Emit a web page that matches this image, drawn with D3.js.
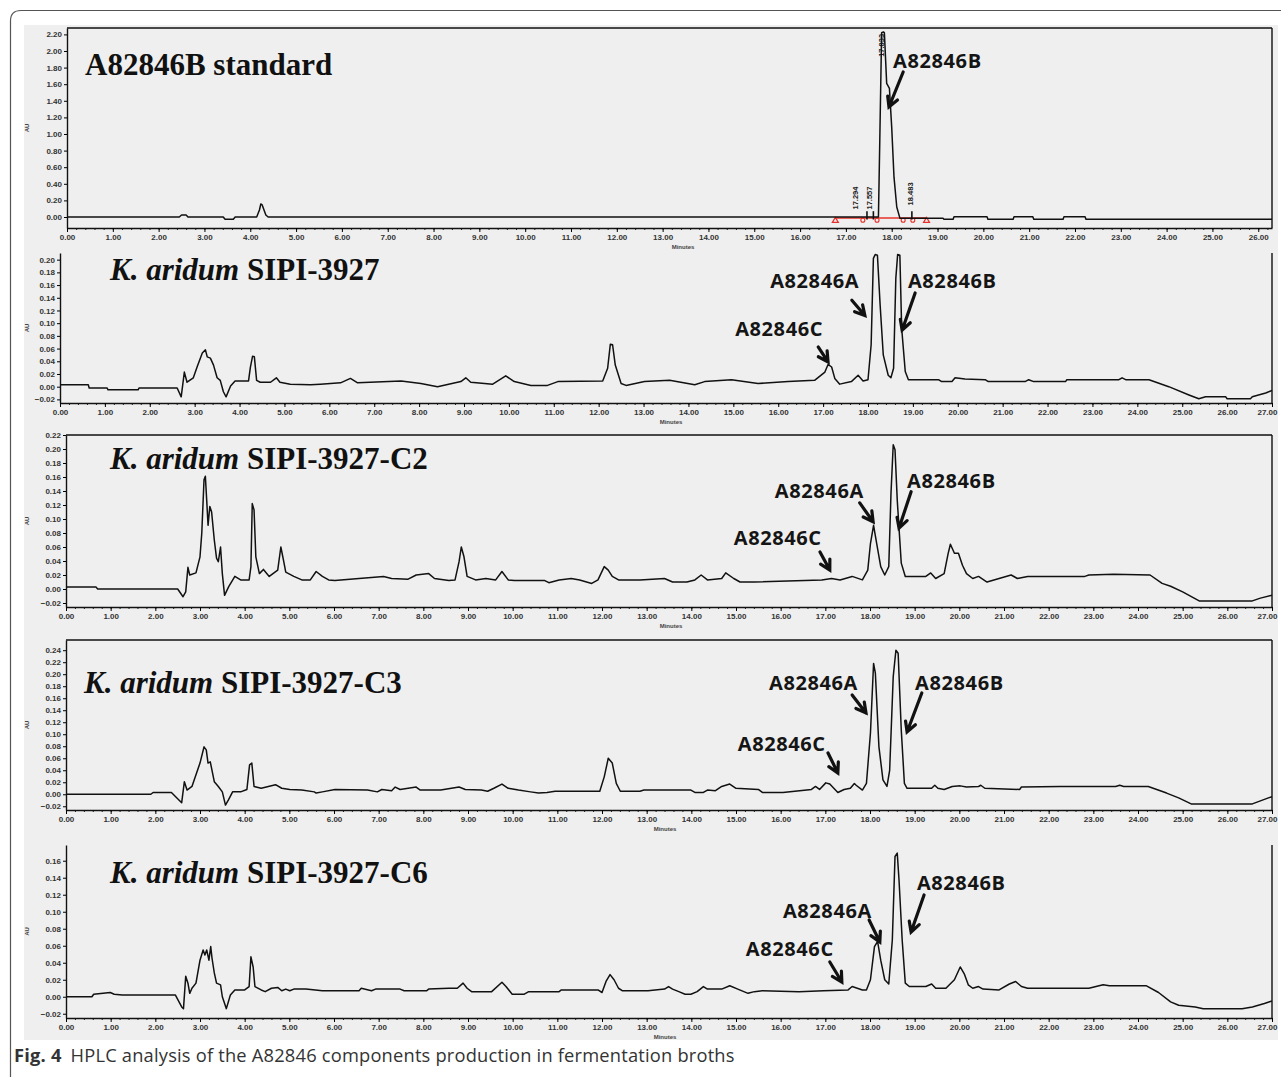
<!DOCTYPE html>
<html>
<head>
<meta charset="utf-8">
<script src="https://cdn.jsdelivr.net/npm/d3@7"></script>
<style>
body { margin: 0; background: #fff; }
svg { display: block; }
</style>
</head>
<body>
<script>
// HPLC chromatograms, A82846 standard and four K. aridum strains

// retention time (min), absorbance (AU)
var stdTrace = [[0,0],[2.45,0],[2.5,0.024],[2.6,0.024],[2.64,0],[3.41,0],[3.45,-0.028],[3.63,-0.028],[3.67,0],
  [4.14,0],[4.2,0.084],[4.23,0.157],[4.26,0.145],[4.3,0.084],[4.34,0.024],[4.39,0],[17.71,0],[17.74,0.93],
  [17.78,2.22],[17.82,2.23],[17.84,2.22],[17.89,1.61],[17.95,1.55],[18.0,1.08],[18.05,0.48],[18.11,0.12],
  [18.18,-0.016],[19.12,-0.016],[19.14,-0.028],[19.34,-0.028],[19.36,0.004],[20.08,0.004],[20.1,-0.028],
  [20.65,-0.028],[20.67,0.004],[21.08,0.004],[21.1,-0.028],[21.74,-0.028],[21.76,0.004],[22.22,0.004],
  [22.24,-0.028],[26.3,-0.028]];

var sipiTrace = [[0,0.003],[0.63,0.003],[0.65,-0.002],[1.05,-0.002],[1.07,-0.005],[1.74,-0.005],[1.76,-0.002],
  [2.61,-0.002],[2.7,-0.016],[2.77,0.023],[2.83,0.007],[2.97,0.014],[3.06,0.032],[3.17,0.053],[3.24,0.058],
  [3.28,0.047],[3.35,0.045],[3.42,0.034],[3.5,0.014],[3.57,0.01],[3.64,-0.008],[3.7,-0.016],[3.8,0.001],
  [3.9,0.009],[4.2,0.009],[4.24,0.03],[4.29,0.048],[4.33,0.047],[4.38,0.01],[4.46,0.007],[4.69,0.007],
  [4.82,0.014],[4.9,0.007],[5.13,0.004],[5.58,0.003],[5.8,0.004],[6.25,0.006],[6.47,0.013],[6.63,0.006],
  [7.6,0.009],[8.04,0.005],[8.41,0.0],[8.93,0.008],[9.04,0.014],[9.15,0.007],[9.64,0.004],[9.93,0.017],
  [10.12,0.008],[10.49,0.002],[10.86,0.002],[11.09,0.008],[12.09,0.009],[12.2,0.029],[12.26,0.067],
  [12.31,0.066],[12.37,0.034],[12.5,0.005],[12.61,0.002],[13.02,0.008],[13.58,0.01],[14.14,0.003],
  [14.36,0.008],[14.96,0.011],[15.55,0.005],[16.22,0.008],[16.81,0.01],[17.04,0.023],[17.11,0.035],
  [17.19,0.031],[17.26,0.013],[17.37,0.004],[17.63,0.008],[17.78,0.018],[17.89,0.009],[18.0,0.011],
  [18.07,0.066],[18.12,0.202],[18.16,0.208],[18.21,0.207],[18.27,0.129],[18.34,0.05],[18.45,0.018],
  [18.51,0.014],[18.57,0.029],[18.62,0.171],[18.66,0.208],[18.71,0.207],[18.75,0.092],[18.83,0.024],
  [18.9,0.011],[19.57,0.011],[19.64,0.008],[19.87,0.008],[19.94,0.014],[20.16,0.012],[20.61,0.011],
  [20.68,0.008],[21.5,0.008],[21.58,0.011],[21.69,0.008],[22.4,0.008],[22.43,0.011],[23.59,0.011],
  [23.66,0.014],[23.74,0.011],[24.26,0.011],[24.7,0.0],[25.15,-0.013],[25.37,-0.019],[25.52,-0.016],
  [25.97,-0.016],[26.0,-0.019],[26.52,-0.019],[26.56,-0.016],[26.86,-0.010],[27.0,-0.006]];

var c2Trace = [[0,0.003],[0.67,0.003],[0.71,0.0],[2.5,0.0],[2.62,-0.011],[2.68,-0.004],[2.73,0.031],[2.77,0.02],
  [2.91,0.023],[3.0,0.046],[3.04,0.08],[3.09,0.156],[3.12,0.161],[3.15,0.127],[3.18,0.091],[3.22,0.118],
  [3.26,0.11],[3.32,0.07],[3.37,0.044],[3.41,0.039],[3.46,0.06],[3.5,0.022],[3.55,-0.009],[3.64,0.003],
  [3.78,0.018],[3.91,0.013],[4.1,0.013],[4.14,0.032],[4.17,0.122],[4.21,0.113],[4.25,0.046],[4.33,0.022],
  [4.42,0.028],[4.55,0.018],[4.74,0.027],[4.81,0.06],[4.87,0.041],[4.92,0.024],[5.1,0.018],[5.28,0.013],
  [5.47,0.013],[5.6,0.025],[5.74,0.018],[5.88,0.013],[6.02,0.012],[6.56,0.015],[7.11,0.018],[7.29,0.015],
  [7.66,0.014],[7.84,0.02],[8.12,0.022],[8.25,0.015],[8.57,0.012],[8.71,0.013],[8.8,0.039],[8.85,0.06],
  [8.91,0.046],[8.98,0.018],[9.17,0.013],[9.4,0.015],[9.62,0.013],[9.76,0.025],[9.9,0.013],[10.04,0.012],
  [10.72,0.012],[10.81,0.009],[11.04,0.013],[11.31,0.015],[11.5,0.013],[11.77,0.008],[11.91,0.013],
  [12.05,0.032],[12.14,0.027],[12.23,0.018],[12.37,0.013],[12.85,0.013],[13.4,0.015],[13.58,0.010],
  [13.9,0.010],[14.08,0.013],[14.22,0.02],[14.36,0.013],[14.68,0.015],[14.77,0.023],[14.95,0.015],
  [15.09,0.01],[15.41,0.01],[16.92,0.013],[17.14,0.015],[17.33,0.013],[17.6,0.018],[17.83,0.013],
  [17.95,0.027],[18.01,0.065],[18.08,0.091],[18.15,0.065],[18.24,0.032],[18.33,0.02],[18.42,0.032],
  [18.47,0.137],[18.52,0.206],[18.56,0.199],[18.61,0.127],[18.7,0.037],[18.79,0.018],[19.25,0.018],
  [19.36,0.023],[19.47,0.015],[19.66,0.022],[19.75,0.051],[19.8,0.064],[19.89,0.051],[19.98,0.051],
  [20.07,0.034],[20.16,0.022],[20.3,0.015],[20.43,0.018],[20.62,0.01],[20.89,0.015],[21.16,0.02],
  [21.3,0.015],[21.53,0.018],[22.81,0.018],[22.9,0.02],[23.45,0.021],[24.27,0.02],[24.54,0.008],
  [24.73,0.004],[25.0,-0.004],[25.37,-0.017],[26.56,-0.017],[26.74,-0.013],[27.0,-0.009]];

var c3Trace = [[0,0],[1.9,0],[1.95,0.003],[2.36,0.003],[2.59,-0.014],[2.65,0.021],[2.71,0.007],[2.82,0.013],
  [3.0,0.052],[3.09,0.079],[3.14,0.074],[3.18,0.052],[3.23,0.054],[3.32,0.021],[3.41,0.013],[3.5,0.004],
  [3.57,-0.018],[3.64,-0.009],[3.73,0.004],[3.91,0.004],[4.05,0.008],[4.11,0.049],[4.16,0.052],[4.21,0.013],
  [4.37,0.01],[4.69,0.016],[4.83,0.01],[5.01,0.008],[5.28,0.007],[5.56,0.004],[5.6,0.002],[5.74,0.004],
  [6.02,0.008],[6.75,0.007],[6.97,0.004],[7.07,0.008],[7.29,0.006],[7.37,0.012],[7.48,0.008],[7.84,0.012],
  [7.93,0.007],[8.39,0.007],[8.8,0.012],[8.94,0.008],[9.3,0.007],[9.44,0.005],[9.58,0.01],[9.76,0.017],
  [9.9,0.01],[10.13,0.007],[10.4,0.004],[10.58,0.002],[10.77,0.003],[10.95,0.005],[11.95,0.005],
  [12.05,0.029],[12.14,0.06],[12.23,0.052],[12.32,0.018],[12.41,0.005],[12.85,0.005],[12.94,0.007],
  [13.99,0.007],[14.08,0.003],[14.27,0.003],[14.36,0.007],[14.54,0.006],[14.68,0.013],[14.86,0.017],
  [15.0,0.01],[15.5,0.008],[15.59,0.003],[16.05,0.003],[16.69,0.008],[16.78,0.013],[16.87,0.008],
  [17.01,0.019],[17.1,0.017],[17.28,0.003],[17.42,0.008],[17.56,0.01],[17.65,0.018],[17.69,0.015],
  [17.83,0.007],[17.92,0.018],[18.01,0.102],[18.08,0.218],[18.12,0.202],[18.2,0.079],[18.29,0.024],
  [18.38,0.013],[18.44,0.04],[18.52,0.196],[18.58,0.24],[18.63,0.235],[18.7,0.107],[18.77,0.018],
  [18.83,0.01],[19.38,0.01],[19.45,0.015],[19.52,0.01],[19.66,0.008],[19.84,0.013],[20.02,0.014],
  [20.16,0.012],[20.43,0.013],[20.48,0.015],[20.57,0.01],[21.35,0.008],[21.39,0.012],[22.26,0.013],
  [23.5,0.013],[23.59,0.015],[23.68,0.013],[24.23,0.013],[24.64,0.002],[24.91,-0.006],[25.19,-0.016],
  [26.56,-0.016],[26.92,-0.006],[27.0,-0.004]];

var c6Trace = [[0,0],[0.58,0],[0.62,0.003],[0.99,0.005],[1.08,0.003],[1.26,0.002],[2.45,0.002],[2.59,-0.012],
  [2.63,-0.014],[2.68,0.024],[2.73,0.016],[2.77,0.004],[2.82,0.01],[2.91,0.016],[3.0,0.043],[3.07,0.055],
  [3.11,0.049],[3.15,0.055],[3.2,0.043],[3.24,0.059],[3.27,0.045],[3.32,0.028],[3.37,0.016],[3.46,0.014],
  [3.5,0.0],[3.59,-0.014],[3.68,0.002],[3.78,0.008],[4.0,0.008],[4.1,0.012],[4.14,0.047],[4.19,0.035],
  [4.23,0.012],[4.37,0.008],[4.46,0.006],[4.6,0.01],[4.74,0.011],[4.83,0.007],[4.92,0.009],[5.01,0.007],
  [5.1,0.009],[5.37,0.009],[5.74,0.007],[6.56,0.007],[6.61,0.01],[6.84,0.007],[6.93,0.009],[7.48,0.009],
  [7.57,0.007],[8.07,0.007],[8.12,0.009],[8.57,0.01],[8.76,0.01],[8.89,0.016],[8.98,0.01],[9.08,0.006],
  [9.53,0.006],[9.76,0.017],[9.85,0.012],[9.99,0.003],[10.26,0.003],[10.36,0.006],[11.04,0.006],
  [11.09,0.008],[11.91,0.008],[12.0,0.005],[12.09,0.018],[12.18,0.026],[12.27,0.02],[12.37,0.01],
  [12.46,0.007],[13.03,0.007],[13.4,0.009],[13.49,0.012],[13.58,0.009],[13.72,0.006],[13.86,0.003],
  [13.99,0.003],[14.13,0.006],[14.27,0.012],[14.36,0.009],[14.68,0.009],[14.86,0.013],[15.04,0.009],
  [15.27,0.004],[15.41,0.006],[15.59,0.007],[16.41,0.006],[16.96,0.007],[17.51,0.008],[17.6,0.012],
  [17.83,0.008],[17.92,0.008],[18.01,0.02],[18.1,0.059],[18.17,0.065],[18.24,0.043],[18.33,0.02],
  [18.42,0.015],[18.5,0.067],[18.56,0.165],[18.61,0.169],[18.65,0.137],[18.72,0.067],[18.79,0.016],
  [18.88,0.012],[19.25,0.012],[19.38,0.015],[19.47,0.01],[19.7,0.01],[19.89,0.02],[20.02,0.035],
  [20.11,0.027],[20.2,0.014],[20.3,0.01],[20.43,0.012],[20.53,0.009],[20.89,0.008],[21.12,0.015],
  [21.26,0.018],[21.39,0.012],[21.53,0.01],[22.9,0.01],[23.22,0.014],[23.36,0.013],[24.18,0.013],
  [24.46,0.005],[24.73,-0.006],[24.91,-0.010],[25.28,-0.012],[25.46,-0.014],[26.33,-0.014],
  [26.56,-0.012],[26.83,-0.008],[27.0,-0.005]];

// axis ticks
var xTicksStd = [0,1,2,3,4,5,6,7,8,9,10,11,12,13,14,15,16,17,18,19,20,21,22,23,24,25,26];
var xTicks = [0,1,2,3,4,5,6,7,8,9,10,11,12,13,14,15,16,17,18,19,20,21,22,23,24,25,26,27];
var yTicksStd = [0,0.2,0.4,0.6,0.8,1.0,1.2,1.4,1.6,1.8,2.0,2.2];
var yTicksSipi = [-0.02,0,0.02,0.04,0.06,0.08,0.10,0.12,0.14,0.16,0.18,0.20];
var yTicksC2 = [-0.02,0,0.02,0.04,0.06,0.08,0.10,0.12,0.14,0.16,0.18,0.20,0.22];
var yTicksC3 = [-0.02,0,0.02,0.04,0.06,0.08,0.10,0.12,0.14,0.16,0.18,0.20,0.22,0.24];
var yTicksC6 = [-0.02,0,0.02,0.04,0.06,0.08,0.10,0.12,0.14,0.16];

// axis extents (min, AU)
var xEndStd = 26.3, xEnd = 27;
var yDomStd = [-0.1325, 2.277];
var yDomSipi = [-0.0257, 0.2105];
var yDomC2 = [-0.0257, 0.22];
var yDomC3 = [-0.0262, 0.257];
var yDomC6 = [-0.025, 0.1785];

// panel titles: [italic part, upright part]
var titles = [["", "A82846B standard"], ["K. aridum", " SIPI-3927"], ["K. aridum", " SIPI-3927-C2"],
  ["K. aridum", " SIPI-3927-C3"], ["K. aridum", " SIPI-3927-C6"]];

// peak annotations: label, label (t, AU), arrow from (t, AU) to (t, AU)
var annStd = [["A82846B", 18.03, 1.795, 18.25, 1.747, 17.94, 1.325]];
var annSipi = [["A82846A", 15.82, 0.155, 17.64, 0.136, 17.93, 0.112],
  ["A82846C", 15.04, 0.080, 16.89, 0.0625, 17.11, 0.039],
  ["A82846B", 18.89, 0.155, 19.05, 0.1475, 18.76, 0.089]];
var annC2 = [["A82846A", 15.87, 0.13, 17.77, 0.123, 18.07, 0.096],
  ["A82846B", 18.83, 0.144, 18.92, 0.139, 18.65, 0.087],
  ["A82846C", 14.95, 0.063, 16.88, 0.053, 17.1, 0.027]];
var annC3 = [["A82846A", 15.74, 0.174, 17.6, 0.1655, 17.91, 0.1355],
  ["A82846B", 19.01, 0.174, 19.16, 0.1688, 18.83, 0.1038],
  ["A82846C", 15.04, 0.072, 17.06, 0.0688, 17.28, 0.0355]];
var annC6 = [["A82846B", 19.05, 0.1256, 19.21, 0.1198, 18.92, 0.0761],
  ["A82846A", 16.05, 0.0926, 17.98, 0.0903, 18.22, 0.0644],
  ["A82846C", 15.22, 0.0479, 17.1, 0.0409, 17.37, 0.0173]];

// integration of the standard peak
var stdRT = [["17.294", 17.2, 0.09], ["17.557", 17.52, 0.09], ["17.833", 17.77, 1.93], ["18.483", 18.4, 0.14]];
var stdBaseline = [16.77, 18.76];
var stdMarks = [17.37, 17.68, 18.25, 18.46];
var stdTicks = [17.46, 17.6, 18.44];

var panels = [
  {left: 67, top: 28, bottom: 228, boxTop: true, xMax: xEndStd, trace: stdTrace, xt: xTicksStd, yt: yTicksStd, yDom: yDomStd, ann: annStd, tx: 85, ty: 75, mx: 683},
  {left: 60, top: 253, bottom: 403, boxTop: false, xMax: xEnd, trace: sipiTrace, xt: xTicks, yt: yTicksSipi, yDom: yDomSipi, ann: annSipi, tx: 110, ty: 280, mx: 671},
  {left: 66, top: 435, bottom: 607, boxTop: true, xMax: xEnd, trace: c2Trace, xt: xTicks, yt: yTicksC2, yDom: yDomC2, ann: annC2, tx: 110, ty: 469, mx: 671},
  {left: 66, top: 640, bottom: 810, boxTop: true, xMax: xEnd, trace: c3Trace, xt: xTicks, yt: yTicksC3, yDom: yDomC3, ann: annC3, tx: 84, ty: 693, mx: 665},
  {left: 66, top: 845, bottom: 1018, boxTop: false, xMax: xEnd, trace: c6Trace, xt: xTicks, yt: yTicksC6, yDom: yDomC6, ann: annC6, tx: 110, ty: 883, mx: 665}
];
var right = 1272;

var svg = d3.select("body").append("svg")
    .attr("width", 1281)
    .attr("height", 1077);

svg.append("rect")
    .attr("x", 24).attr("y", 25)
    .attr("width", 1254).attr("height", 1015)
    .attr("fill", "#efefef");

svg.append("path")
    .attr("d", "M10.5,1077 L10.5,21 Q10.5,10.5 21,10.5 L1281,10.5")
    .attr("fill", "none")
    .attr("stroke", "#555")
    .attr("stroke-width", 1.2);

var fmt = d3.format(".2f");

panels.forEach(function(p, i) {
    var x = d3.scaleLinear().domain([0, p.xMax]).range([p.left, right]);
    var y = d3.scaleLinear().domain(p.yDom).range([p.bottom, p.top]);
    var g = svg.append("g");

    // frame
    g.append("line").attr("x1", right).attr("x2", right).attr("y1", p.top).attr("y2", p.bottom)
        .attr("stroke", "#111").attr("stroke-width", 1.4);
    if (p.boxTop) {
        g.append("line").attr("x1", p.left).attr("x2", right).attr("y1", p.top).attr("y2", p.top)
            .attr("stroke", "#111").attr("stroke-width", 1.4);
    }

    // x axis
    var minor = d3.range(0, p.xMax + 0.001, 0.2);
    g.append("g")
        .attr("transform", "translate(0," + p.bottom + ")")
        .call(d3.axisBottom(x).tickValues(minor).tickFormat("").tickSize(2).tickSizeOuter(0))
        .call(function(a) { a.select(".domain").remove(); a.selectAll("line").attr("stroke", "#222"); });
    var xa = g.append("g")
        .attr("transform", "translate(0," + p.bottom + ")")
        .call(d3.axisBottom(x).tickValues(p.xt).tickFormat(fmt).tickSize(4).tickPadding(2).tickSizeOuter(0));
    xa.select(".domain").attr("stroke", "#111").attr("stroke-width", 1.4);
    xa.selectAll("text").attr("font-family", "'Liberation Sans', Arial, sans-serif")
        .attr("font-size", 8).attr("font-weight", 700).attr("fill", "#333");
    // the last label sits on the right edge, as in the original
    xa.selectAll(".tick").filter(function(d) { return d === 27; }).select("text")
        .attr("text-anchor", "end").attr("dx", 5);

    // y axis
    var ya = g.append("g")
        .attr("transform", "translate(" + p.left + ",0)")
        .call(d3.axisLeft(y).tickValues(p.yt).tickFormat(fmt).tickSize(3).tickPadding(2).tickSizeOuter(0));
    ya.select(".domain").attr("stroke", "#111").attr("stroke-width", 1.4);
    ya.selectAll("text").attr("font-family", "'Liberation Sans', Arial, sans-serif")
        .attr("font-size", 8).attr("font-weight", 700).attr("fill", "#333");

    // axis titles
    g.append("text")
        .attr("transform", "translate(29," + ((p.top + p.bottom) / 2) + ") rotate(-90)")
        .attr("text-anchor", "middle")
        .attr("font-family", "'Liberation Sans', Arial, sans-serif")
        .attr("font-size", 6).attr("font-weight", 700).attr("fill", "#444")
        .text("AU");
    g.append("text")
        .attr("x", p.mx).attr("y", p.bottom + 21)
        .attr("text-anchor", "middle")
        .attr("font-family", "'Liberation Sans', Arial, sans-serif")
        .attr("font-size", 6).attr("font-weight", 700).attr("fill", "#444")
        .text("Minutes");

    // integration marks on the standard
    if (i === 0) {
        g.append("line")
            .attr("x1", x(stdBaseline[0])).attr("x2", x(stdBaseline[1]))
            .attr("y1", y(-0.012)).attr("y2", y(-0.012))
            .attr("stroke", "#e8302a").attr("stroke-width", 1.3);
        g.selectAll(".tri").data(stdBaseline).enter().append("path")
            .attr("d", function(d) { var cx = x(d), cy = y(-0.04); return "M" + (cx - 3) + "," + (cy + 2) + "L" + cx + "," + (cy - 3) + "L" + (cx + 3) + "," + (cy + 2) + "Z"; })
            .attr("fill", "none").attr("stroke", "#e8302a").attr("stroke-width", 1.2);
        g.selectAll(".mk").data(stdMarks).enter().append("circle")
            .attr("cx", function(d) { return x(d); }).attr("cy", y(-0.04)).attr("r", 2)
            .attr("fill", "none").attr("stroke", "#e8302a").attr("stroke-width", 1.1);
        g.selectAll(".tk").data(stdTicks).enter().append("line")
            .attr("x1", function(d) { return x(d); }).attr("x2", function(d) { return x(d); })
            .attr("y1", y(0.07)).attr("y2", y(-0.03))
            .attr("stroke", "#111").attr("stroke-width", 1.6);
        g.selectAll(".rt").data(stdRT).enter().append("text")
            .attr("transform", function(d) { return "translate(" + (x(d[1]) + 2.5) + "," + y(d[2]) + ") rotate(-90)"; })
            .attr("font-family", "'Liberation Sans', Arial, sans-serif")
            .attr("font-size", 7.5).attr("font-weight", 700).attr("fill", "#222")
            .text(function(d) { return d[0]; });
    }

    // trace
    g.append("path")
        .datum(p.trace)
        .attr("d", d3.line().x(function(d) { return x(d[0]); }).y(function(d) { return y(d[1]); }))
        .attr("fill", "none")
        .attr("stroke", "#111")
        .attr("stroke-width", 1.5)
        .attr("stroke-linejoin", "round");

    // title
    var t = g.append("text")
        .attr("x", p.tx).attr("y", p.ty)
        .attr("font-family", "'Liberation Serif', 'Times New Roman', serif")
        .attr("font-size", 31).attr("font-weight", 700).attr("fill", "#111");
    if (titles[i][0]) t.append("tspan").attr("font-style", "italic").text(titles[i][0]);
    t.append("tspan").text(titles[i][1]);

    // peak labels and arrows
    p.ann.forEach(function(a) {
        g.append("text")
            .attr("x", x(a[1])).attr("y", y(a[2]))
            .attr("font-family", "'Open Sans', 'Noto Sans', sans-serif")
            .attr("font-size", 20).attr("font-weight", 700)
            .attr("letter-spacing", 0.6).attr("fill", "#151515")
            .text(a[0]);
        var x1 = x(a[3]), y1 = y(a[4]), x2 = x(a[5]), y2 = y(a[6]);
        var ang = Math.atan2(y2 - y1, x2 - x1), L = 11, s = 0.5;
        var w1 = [x2 - L * Math.cos(ang - s), y2 - L * Math.sin(ang - s)];
        var w2 = [x2 - L * Math.cos(ang + s), y2 - L * Math.sin(ang + s)];
        g.append("path")
            .attr("d", "M" + x1 + "," + y1 + "L" + x2 + "," + y2 + "M" + w1 + "L" + x2 + "," + y2 + "L" + w2)
            .attr("fill", "none").attr("stroke", "#111").attr("stroke-width", 3.2)
            .attr("stroke-linecap", "round").attr("stroke-linejoin", "miter");
    });
});

var cap = svg.append("text")
    .attr("x", 14).attr("y", 1062)
    .attr("font-family", "'Open Sans', 'Noto Sans', sans-serif")
    .attr("font-size", 18.3).attr("letter-spacing", 0.2).attr("fill", "#333");
cap.append("tspan").attr("font-weight", 700).text("Fig. 4");
cap.append("tspan").attr("dx", 9).text("HPLC analysis of the A82846 components production in fermentation broths");
</script>
</body>
</html>
